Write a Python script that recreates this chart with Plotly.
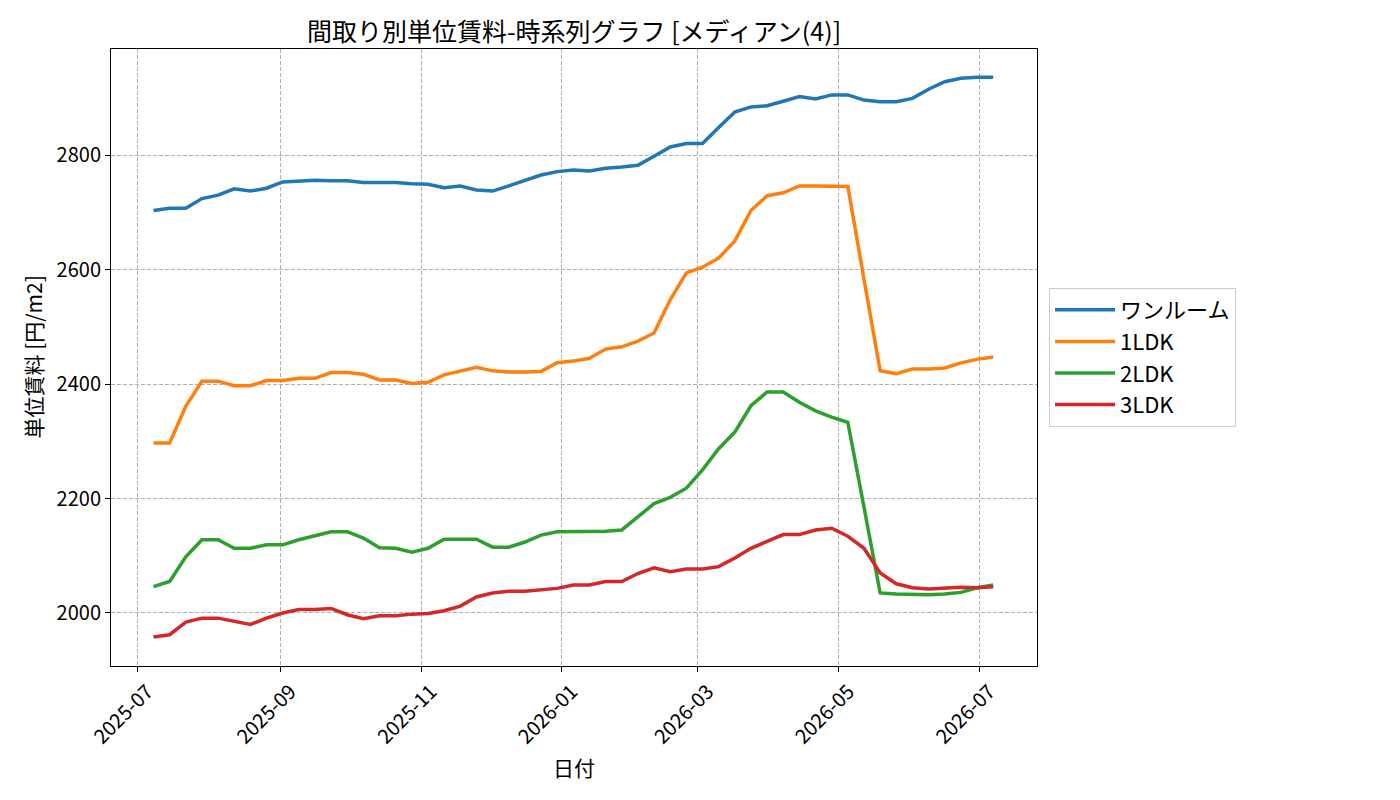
import pandas as pd
import plotly.graph_objects as go

# ---- data (weekly medians) ----
start_date = "2025-07-08"
n_weeks = 53

one_room = [2703, 2707, 2707, 2724, 2730, 2741, 2737, 2742, 2753, 2754,
            2756, 2755, 2755, 2752, 2752, 2752, 2750, 2749, 2743, 2746,
            2739, 2737, 2746, 2756, 2765, 2771, 2774, 2772, 2777, 2779,
            2782, 2798, 2814, 2820, 2820, 2848, 2875, 2884, 2886, 2894,
            2902, 2898, 2905, 2905, 2896, 2893, 2893, 2899, 2915, 2928,
            2934, 2936, 2936]

ldk1 = [2297, 2297, 2361, 2405, 2405, 2397, 2397, 2406, 2406, 2410,
        2410, 2420, 2420, 2417, 2407, 2407, 2401, 2403, 2416, 2423,
        2429, 2423, 2421, 2421, 2422, 2437, 2440, 2445, 2461, 2465,
        2475, 2489, 2547, 2594, 2604, 2620, 2650, 2703, 2729, 2734,
        2746, 2746, 2746, 2745, 2583, 2423, 2418, 2426, 2426, 2428,
        2437, 2443, 2447]

ldk2 = [2046, 2055, 2098, 2128, 2128, 2113, 2113, 2119, 2119, 2128,
        2135, 2142, 2142, 2131, 2114, 2113, 2106, 2113, 2129, 2129,
        2129, 2115, 2115, 2124, 2136, 2142, 2142, 2143, 2143, 2145,
        2168, 2191, 2202, 2218, 2250, 2287, 2316, 2362, 2386, 2386,
        2368, 2353, 2342, 2333, 2185, 2035, 2033, 2032, 2032, 2033,
        2036, 2044, 2049]

ldk3 = [1958, 1962, 1984, 1991, 1991, 1985, 1980, 1991, 2000, 2006,
        2006, 2008, 1997, 1990, 1995, 1995, 1998, 1999, 2004, 2012,
        2028, 2035, 2038, 2038, 2041, 2043, 2049, 2049, 2055, 2055,
        2069, 2079, 2072, 2077, 2077, 2081, 2096, 2113, 2125, 2137,
        2137, 2145, 2148, 2134, 2113, 2070, 2051, 2044, 2042, 2044,
        2045, 2044, 2046]

series_names = ["ワンルーム", "1LDK", "2LDK", "3LDK"]
series_values = [one_room, ldk1, ldk2, ldk3]
series_colors = ["#1f77b4", "#ff7f0e", "#2ca02c", "#d62728"]

dates = pd.date_range(start_date, periods=n_weeks, freq="7D")

FONT = "Noto Sans CJK JP, Noto Sans, DejaVu Sans, sans-serif"

fig = go.Figure()
for name, vals, col in zip(series_names, series_values, series_colors):
    fig.add_trace(go.Scatter(
        x=dates, y=vals, mode="lines", name=name,
        line=dict(color=col, width=3.5),
    ))

axis_common = dict(
    showline=True, linecolor="black", linewidth=1, mirror=True,
    ticks="outside", ticklen=5, tickwidth=1, tickcolor="black",
    showgrid=True, gridcolor="#b0b0b0", gridwidth=1, griddash="4px,2px",
    zeroline=False,
    tickfont=dict(family=FONT, size=20, color="black"),
)

fig.update_layout(
    width=1400, height=800,
    margin=dict(l=111, r=363, t=49, b=134),
    paper_bgcolor="white", plot_bgcolor="white",
    font=dict(family=FONT, color="black"),
    title=dict(
        text="間取り別単位賃料-時系列グラフ [メディアン(4)]",
        x=0.5, xref="paper", xanchor="center",
        y=1 - 32 / 800, yref="container", yanchor="middle",
        font=dict(family=FONT, size=25, color="black"),
    ),
    xaxis=dict(
        axis_common,
        type="date",
        range=["2025-06-19 14:00", "2026-07-26 00:00"],
        tick0="2025-07-01", dtick="M2", tickformat="%Y-%m",
        tickangle=-45, ticklabelshift=10,
    ),
    yaxis=dict(
        axis_common,
        range=[1907.4, 2985.2],
        tick0=2000, dtick=200,
    ),
    legend=dict(
        x=1.013, xanchor="left", y=0.5, yanchor="middle",
        bordercolor="#cccccc", borderwidth=1, bgcolor="white",
        font=dict(family=FONT, size=22, color="black"),
        itemwidth=60,
    ),
    showlegend=True,
    annotations=[
        dict(text="日付", xref="paper", yref="paper",
             x=0.5, y=(666 - 767) / 617, xanchor="center", yanchor="middle",
             showarrow=False, font=dict(family=FONT, size=21, color="black")),
        dict(text="単位賃料 [円/m2]", xref="paper", yref="paper",
             x=(32 - 111) / 926, y=0.5, xanchor="center", yanchor="middle",
             textangle=-90, showarrow=False,
             font=dict(family=FONT, size=21, color="black")),
    ],
)

fig.write_html("out.html")
